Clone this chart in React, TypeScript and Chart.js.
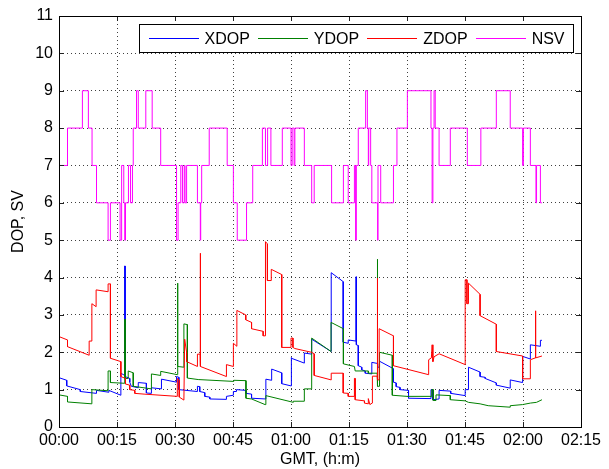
import React, { useEffect, useRef } from 'react';
import { Chart, registerables } from 'chart.js';

Chart.register(...registerables);

const FONT = "'Liberation Sans', Arial, Helvetica, sans-serif";

// time in minutes after 00:00 GMT, value
const xdop: [number, number][] = [
  [0,1.32],[2.0,1.25],[2.0,1.1],[5.5,1.0],[5.5,0.95],[9.7,0.9],[9.7,0.98],[12.9,0.93],[12.9,0.98],[16.0,0.85],[16.0,1.44],[17.0,1.38],[17.0,4.31],[17.1,4.31],[17.1,1.35],[18.3,1.3],[18.3,1.2],[18.7,1.09],[20.5,1.05],[20.5,1.19],[22.6,1.17],[22.6,0.91],[23.9,0.9],[23.9,1.05],[26.5,1.02],[26.5,1.28],[30.4,1.2],[30.4,1.35],[31.0,1.33],[31.0,1.0],[35.8,0.95],[35.8,1.09],[36.4,1.08],[36.4,0.95],[37.7,0.92],[37.7,0.82],[39.0,0.8],[39.0,0.75],[43.3,0.74],[43.3,0.82],[45.1,0.85],[45.1,0.95],[45.9,0.95],[45.9,1.0],[48.35,0.98],[48.35,0.9],[49.8,0.88],[49.8,0.77],[53.5,0.75],[53.5,1.28],[55.0,1.25],[55.0,1.55],[57.6,1.45],[57.6,1.16],[60.0,1.1],[60.0,1.86],[60.2,1.84],[63.45,1.71],[63.45,1.98],[65.35,1.95],[65.35,2.35],[70.4,2.02],[70.4,4.13],[73.5,3.89],[73.5,2.27],[74.8,2.24],[74.8,2.33],[76.8,2.3],[76.8,4.02],[76.9,4.02],[76.9,2.2],[77.4,2.18],[77.4,1.64],[78.3,1.6],[78.3,1.53],[79.2,1.5],[79.2,1.44],[80.9,1.42],[80.9,1.73],[82.4,1.7],[82.4,1.6],[82.9,1.6],[82.9,1.76],[86.5,1.56],[86.5,1.2],[87.2,1.18],[87.2,1.08],[88.2,1.06],[88.2,1.0],[90.4,0.98],[90.4,0.77],[96.2,0.76],[96.2,1.0],[96.6,1.0],[96.6,0.73],[98.3,0.75],[98.3,0.98],[101.3,0.96],[101.3,0.9],[105.05,0.84],[105.05,1.0],[105.9,1.0],[105.9,1.6],[108.9,1.47],[108.9,1.35],[110.2,1.33],[110.2,1.3],[113.1,1.18],[113.1,1.12],[116.7,1.04],[116.7,1.26],[119.9,1.19],[119.9,1.89],[121.9,1.82],[121.9,2.2],[124.5,2.16],[124.5,2.32],[124.9,2.32],
];

const ydop: [number, number][] = [
  [0,0.86],[2.2,0.82],[2.2,0.67],[8.5,0.62],[8.5,1.0],[12.7,0.97],[12.7,1.5],[13.3,1.5],[13.3,1.19],[17.0,1.17],[17.0,2.88],[17.1,2.88],[17.1,1.3],[17.9,1.3],[17.9,1.5],[19.2,1.45],[19.2,1.09],[23.9,1.02],[23.9,1.42],[26.3,1.38],[26.3,1.49],[30.6,1.4],[30.6,3.85],[30.75,3.85],[30.75,1.62],[32.3,1.6],[32.3,2.76],[33.2,2.74],[33.2,1.31],[36.0,1.27],[45.2,1.22],[45.2,1.25],[48.35,1.24],[48.35,0.77],[49.8,0.75],[53.3,0.6],[53.5,0.6],[53.5,0.84],[60.6,0.66],[60.6,0.69],[63.45,0.69],[63.45,1.02],[65.35,1.02],[65.35,2.38],[70.35,2.02],[70.35,2.8],[73.55,2.63],[73.55,1.69],[76.4,1.62],[76.6,1.5],[80.0,1.5],[80.0,1.44],[82.3,1.44],[82.3,4.49],[82.4,4.49],[82.4,1.09],[82.9,1.09],[82.9,2.0],[86.2,1.92],[86.2,0.85],[90.0,0.82],[96.4,0.82],[96.4,1.0],[96.8,1.0],[96.8,0.71],[97.5,0.71],[97.5,0.86],[101.2,0.84],[101.2,0.73],[105.05,0.7],[105.9,0.66],[108.9,0.62],[111.0,0.57],[116.7,0.53],[116.7,0.57],[119.9,0.6],[121.9,0.64],[123.5,0.66],[124.9,0.73],
];

const zdop: [number, number][] = [
  [0,2.42],[2.2,2.33],[2.2,2.15],[7.8,1.92],[7.8,2.3],[8.5,2.3],[8.5,3.3],[9.6,3.22],[9.6,3.67],[12.7,3.62],[12.7,3.83],[13.3,3.83],[13.3,1.84],[16.0,1.75],[16.0,1.35],[17.2,1.3],[17.2,1.15],[18.3,1.12],[18.3,1.0],[19.6,0.98],[19.6,0.9],[22.0,0.88],[30.6,0.82],[30.6,1.3],[31.1,1.25],[31.1,0.8],[32.3,0.72],[32.5,2.35],[33.0,2.0],[33.0,1.75],[35.8,1.62],[35.8,1.95],[36.5,1.95],[36.5,4.65],[36.6,4.65],[36.6,1.62],[43.3,1.35],[43.3,1.67],[45.1,1.62],[45.1,2.24],[46.0,2.16],[46.0,3.12],[48.3,3.0],[48.3,2.87],[49.8,2.8],[49.8,2.63],[52.8,2.56],[52.8,2.44],[53.3,2.44],[53.3,3.67],[53.5,4.96],[53.9,4.9],[53.9,3.92],[54.9,3.92],[54.9,4.22],[57.6,4.08],[57.6,2.13],[60.0,2.13],[60.0,2.38],[60.5,2.38],[60.5,2.13],[61.0,2.1],[65.3,2.0],[66.0,1.96],[66.0,1.38],[70.4,1.26],[70.4,1.44],[73.5,1.44],[73.5,0.91],[74.8,0.9],[74.8,0.82],[76.4,0.82],[76.4,1.3],[76.6,1.3],[76.6,0.73],[79.0,0.7],[79.0,0.64],[80.0,0.62],[80.0,0.76],[80.4,0.6],[81.0,0.64],[81.05,1.36],[82.3,1.36],[82.3,3.98],[82.4,3.98],[82.4,1.26],[82.8,1.26],[82.8,2.63],[86.5,2.44],[86.5,1.64],[95.6,1.4],[95.6,1.8],[96.3,1.85],[96.5,2.2],[96.7,1.75],[97.0,1.88],[98.3,1.96],[105.05,1.67],[105.05,3.94],[105.5,3.94],[105.5,3.3],[105.9,3.3],[105.9,3.85],[108.9,3.55],[108.9,2.98],[113.1,2.75],[113.1,2.02],[119.9,1.9],[119.9,1.29],[121.9,1.29],[121.9,1.8],[123.2,1.85],[123.2,3.11],[123.3,3.11],[123.3,1.85],[124.9,1.9],
];

// number of satellites, value held from each time until the next one
const nsv: [number, number][] = [
  [0,7],[2.2,8],[6.05,9],[7.6,8],[8.55,7],[9.7,6],[12.7,5],[13.3,6],[15.8,5],[16.2,7],[16.75,6],[17.0,5],[17.2,6],[17.96,7],[18.5,6],[19.0,7],[19.2,8],[20.05,9],[20.5,8],[22.45,9],[24.1,8],[26.3,7],[30.4,5],[30.8,6],[31.5,7],[31.95,6],[32.4,7],[32.6,6],[33.0,7],[35.8,6],[36.55,5],[36.65,6],[36.9,7],[38.85,8],[43.5,7],[45.1,6],[46.1,5],[48.5,6],[50.1,7],[52.6,8],[53.4,7],[53.95,8],[54.8,7],[57.75,8],[60.0,7],[60.3,8],[60.8,7],[61.0,8],[63.45,7],[65.35,6],[66.0,7],[70.5,6],[73.55,7],[74.8,6],[76.4,7],[76.7,5],[76.9,7],[77.4,8],[79.3,9],[79.75,8],[80.0,7],[80.1,8],[80.6,7],[80.9,6],[82.4,5],[82.5,7],[83.2,6],[86.5,7],[87.4,8],[90.1,9],[96.2,8],[96.5,6],[96.7,8],[97.0,9],[97.3,8],[98.3,7],[101.2,8],[105.6,7],[109.1,8],[113.1,9],[116.7,8],[119.9,7],[120.1,8],[121.9,7],[123.35,6],[123.5,7],[124.5,6],[124.9,6],
];

const seriesNames = ['XDOP', 'YDOP', 'ZDOP', 'NSV'];
const seriesColors = ['#0000ff', '#008000', '#ff0000', '#ff00ff'];
const xMin = 0, xMax = 135, xStep = 15;
const yMin = 0, yMax = 11, yStep = 1;

const fmtTime = (v: number) => {
  const h = Math.floor(v / 60);
  const m = Math.round(v % 60);
  return `${String(h).padStart(2, '0')}:${String(m).padStart(2, '0')}`;
};

const toPts = (arr: [number, number][]) => arr.map(([x, y]) => ({ x, y }));

const framePlugin = {
  id: 'frame',
  afterDraw(chart: any) {
    const { ctx, chartArea: ca, scales } = chart;
    ctx.save();
    ctx.setLineDash([]);
    // ticks pointing inward
    ctx.strokeStyle = '#222';
    ctx.lineWidth = 1;
    const L = 5;
    ctx.beginPath();
    for (let v = xMin; v <= xMax; v += xStep) {
      const px = Math.round(scales.x.getPixelForValue(v)) + 0.5;
      ctx.moveTo(px, ca.bottom); ctx.lineTo(px, ca.bottom - L);
      ctx.moveTo(px, ca.top); ctx.lineTo(px, ca.top + L);
    }
    for (let v = yMin; v <= yMax; v += yStep) {
      const py = Math.round(scales.y.getPixelForValue(v)) + 0.5;
      ctx.moveTo(ca.left, py); ctx.lineTo(ca.left + L, py);
      ctx.moveTo(ca.right, py); ctx.lineTo(ca.right - L, py);
    }
    ctx.stroke();
    // box
    ctx.strokeStyle = '#000';
    ctx.strokeRect(Math.round(ca.left) + 0.5, Math.round(ca.top) + 0.5, Math.round(ca.right - ca.left), Math.round(ca.bottom - ca.top));

    // legend
    ctx.font = `16px ${FONT}`;
    const widths = seriesNames.map((n) => ctx.measureText(n).width);
    const lineLen = 50, gap1 = 6, gap2 = 8, pad = 9;
    const total = pad * 2 + seriesNames.length * (lineLen + gap1) + widths.reduce((a, b) => a + b, 0) + gap2 * (seriesNames.length - 1);
    const right = Math.round(ca.right) - 7.5;
    const left = Math.round(right - total) + 0.5;
    const top = Math.round(ca.top) + 8.5;
    const h = 28;
    ctx.fillStyle = '#fff';
    ctx.fillRect(left, top, right - left, h);
    ctx.strokeStyle = '#000';
    ctx.strokeRect(left, top, right - left, h);
    const cy = top + h / 2;
    let x = left + pad;
    ctx.textBaseline = 'middle';
    ctx.textAlign = 'left';
    seriesNames.forEach((n, i) => {
      ctx.fillStyle = seriesColors[i];
      ctx.fillRect(Math.round(x), Math.round(cy) - 1, lineLen, 1);
      x += lineLen + gap1;
      ctx.fillStyle = '#000';
      ctx.fillText(n, x, cy + 1);
      x += widths[i] + gap2;
    });
    ctx.restore();
  },
};

export default function App() {
  const ref = useRef<HTMLCanvasElement | null>(null);
  useEffect(() => {
    if (!ref.current) return;
    const allData = [xdop, ydop, zdop, nsv];
    const chart = new Chart(ref.current, {
      type: 'line',
      data: {
        datasets: allData.map((d, i) => ({
          label: seriesNames[i],
          data: toPts(d),
          borderColor: seriesColors[i],
          backgroundColor: seriesColors[i],
          borderWidth: 1,
          pointRadius: 0,
          fill: false,
          tension: 0,
          stepped: i === 3 ? 'before' : false,
          order: 4 - i,
        })),
      },
      options: {
        animation: false,
        responsive: false,
        maintainAspectRatio: false,
        parsing: false as any,
        normalized: true,
        layout: { padding: { top: 16, right: 28, left: 0, bottom: 0 } },
        plugins: { legend: { display: false }, tooltip: { enabled: false } },
        events: [],
        scales: {
          x: {
            type: 'linear',
            min: xMin,
            max: xMax,
            afterFit: (s: any) => { s.height = 42; },
            ticks: {
              stepSize: xStep,
              color: '#000',
              padding: 4,
              maxRotation: 0,
              font: { family: FONT, size: 16 },
              callback: (v: any) => fmtTime(Number(v)),
            },
            grid: { color: 'rgba(0,0,0,0.75)', lineWidth: 1, drawTicks: false },
            border: { display: false, dash: [1, 3] },
            title: { display: true, text: 'GMT, (h:m)', color: '#000', font: { family: FONT, size: 16 }, padding: { top: 0, bottom: 0 } },
          },
          y: {
            type: 'linear',
            min: yMin,
            max: yMax,
            afterFit: (s: any) => { s.width = 59; },
            ticks: {
              stepSize: yStep,
              color: '#000',
              padding: 6,
              font: { family: FONT, size: 16 },
            },
            grid: { color: 'rgba(0,0,0,0.75)', lineWidth: 1, drawTicks: false },
            border: { display: false, dash: [1, 3] },
            title: { display: true, text: 'DOP, SV', color: '#000', font: { family: FONT, size: 16 }, padding: { top: 9, bottom: 0 } },
          },
        },
      },
      plugins: [framePlugin],
    } as any);
    return () => chart.destroy();
  }, []);
  return (
    <div style={{ position: 'fixed', left: 0, top: 0, width: 609, height: 469, background: '#fff' }}>
      <canvas ref={ref} width={609} height={469} style={{ display: 'block' }} />
    </div>
  );
}
